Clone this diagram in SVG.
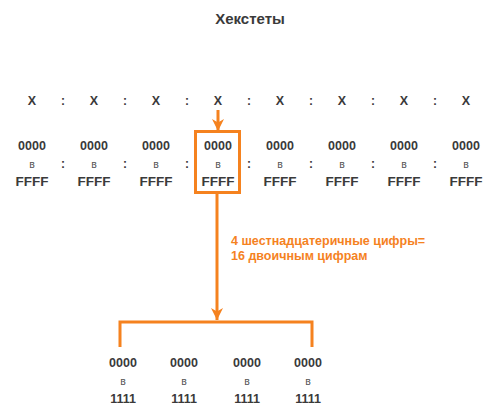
<svg xmlns="http://www.w3.org/2000/svg" width="494" height="420" viewBox="0 0 494 420">
<style>
text{font-family:"Liberation Sans",Arial,sans-serif;fill:#3a3a3a;text-anchor:middle}
.t{font-size:15px;font-weight:bold}
.x{font-size:12.5px;font-weight:bold}
.c{font-size:12px;font-weight:bold}
.h{font-size:12.5px;font-weight:bold}
.f{font-size:13.5px;font-weight:bold}
.v{font-size:10.5px;fill:#555}
.lbl{font-size:12.5px;font-weight:bold;fill:#f5821f;text-anchor:start}
.o{stroke:#f5821f;stroke-width:3;fill:none}
</style>
<defs>
<marker id="ah" viewBox="0 0 10 10" refX="10" refY="5" markerWidth="4" markerHeight="4.5" orient="auto" markerUnits="strokeWidth">
<path d="M0,0 L10,5 L0,10 L3,5 Z" fill="#f5821f"/>
</marker>
</defs>
<rect width="494" height="420" fill="#fff"/>
<text class="t" x="250" y="24">Хекстеты</text>
<g id="row-x">
<text class="x" x="32" y="105">X</text>
<text class="x" x="94" y="105">X</text>
<text class="x" x="156" y="105">X</text>
<text class="x" x="218" y="105">X</text>
<text class="x" x="280" y="105">X</text>
<text class="x" x="342" y="105">X</text>
<text class="x" x="404" y="105">X</text>
<text class="x" x="466" y="105">X</text>
<text class="c" x="63" y="105">:</text>
<text class="c" x="125" y="105">:</text>
<text class="c" x="187" y="105">:</text>
<text class="c" x="249" y="105">:</text>
<text class="c" x="311" y="105">:</text>
<text class="c" x="373" y="105">:</text>
<text class="c" x="435" y="105">:</text>
</g>
<g id="row-hex">
<g id="hex1"><text class="h" x="32" y="150">0000</text><text class="v" x="32" y="168">в</text><text class="f" x="32" y="186">FFFF</text></g>
<g id="hex2"><text class="h" x="94" y="150">0000</text><text class="v" x="94" y="168">в</text><text class="f" x="94" y="186">FFFF</text></g>
<g id="hex3"><text class="h" x="156" y="150">0000</text><text class="v" x="156" y="168">в</text><text class="f" x="156" y="186">FFFF</text></g>
<g id="hex4"><rect class="o" x="195.5" y="131.5" width="44" height="61" stroke-width="2"/><text class="h" x="218" y="150">0000</text><text class="v" x="218" y="168">в</text><text class="f" x="218" y="186">FFFF</text></g>
<g id="hex5"><text class="h" x="280" y="150">0000</text><text class="v" x="280" y="168">в</text><text class="f" x="280" y="186">FFFF</text></g>
<g id="hex6"><text class="h" x="342" y="150">0000</text><text class="v" x="342" y="168">в</text><text class="f" x="342" y="186">FFFF</text></g>
<g id="hex7"><text class="h" x="404" y="150">0000</text><text class="v" x="404" y="168">в</text><text class="f" x="404" y="186">FFFF</text></g>
<g id="hex8"><text class="h" x="466" y="150">0000</text><text class="v" x="466" y="168">в</text><text class="f" x="466" y="186">FFFF</text></g>
<text class="c" x="63" y="168">:</text>
<text class="c" x="125" y="168">:</text>
<text class="c" x="187" y="168">:</text>
<text class="c" x="249" y="168">:</text>
<text class="c" x="311" y="168">:</text>
<text class="c" x="373" y="168">:</text>
<text class="c" x="435" y="168">:</text>
</g>
<g id="connectors">
<line class="o" x1="218" y1="110" x2="218" y2="131" marker-end="url(#ah)"/>
<line class="o" x1="217" y1="193" x2="217" y2="320" marker-end="url(#ah)"/>
<path class="o" d="M120,347 V322 H312 V347"/>
</g>
<g id="label">
<text class="lbl" x="231" y="245">4 шестнадцатеричные цифры=</text>
<text class="lbl" x="231" y="260">16 двоичным цифрам</text>
</g>
<g id="row-bin">
<g id="bin1"><text class="h" x="123" y="367">0000</text><text class="v" x="123" y="385">в</text><text class="h" x="123" y="403">1111</text></g>
<g id="bin2"><text class="h" x="184" y="367">0000</text><text class="v" x="184" y="385">в</text><text class="h" x="184" y="403">1111</text></g>
<g id="bin3"><text class="h" x="247" y="367">0000</text><text class="v" x="247" y="385">в</text><text class="h" x="247" y="403">1111</text></g>
<g id="bin4"><text class="h" x="308" y="367">0000</text><text class="v" x="308" y="385">в</text><text class="h" x="308" y="403">1111</text></g>
</g>
</svg>
